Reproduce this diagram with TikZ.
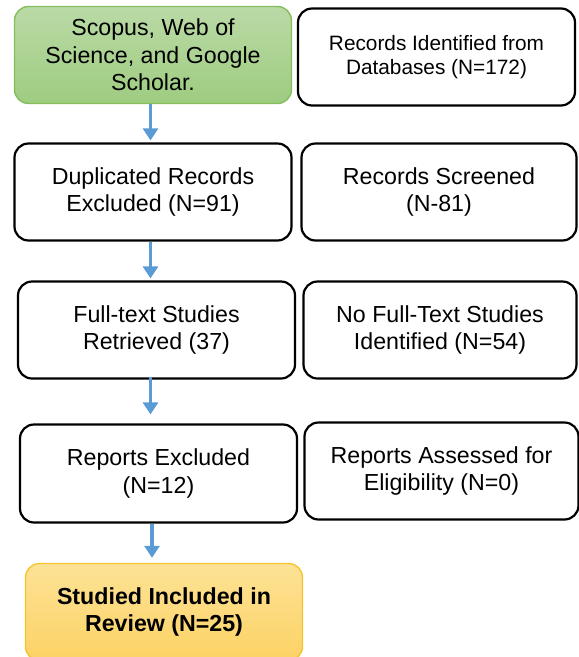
\documentclass[tikz,border=0pt]{standalone}
\usepackage{fontspec}
\setmainfont{Liberation Sans}
\usetikzlibrary{arrows.meta,positioning}
\definecolor{flowblue}{RGB}{91,155,213}
\definecolor{greenline}{RGB}{132,190,92}
\definecolor{greentop}{RGB}{186,218,166}
\definecolor{greenbot}{RGB}{158,204,128}
\definecolor{goldline}{RGB}{246,196,48}
\definecolor{goldtop}{RGB}{253,226,150}
\definecolor{goldbot}{RGB}{252,210,100}
\tikzset{
    box/.style={draw=black, line width=2.2pt, rounded corners=14pt, fill=white,
        align=center, inner sep=0pt, minimum width=277pt, minimum height=97pt,
        font=\fontsize{23.2}{27.5}\selectfont},
    flow/.style={draw=flowblue, line width=3.2pt, -{Triangle[length=12pt,width=15pt]}}
}

\begin{document}
\begin{tikzpicture}[x=1pt, y=-1pt]
    \clip (0, 0) rectangle (579, 657);
    \coordinate (ax) at (150.5, 0);

    \node[box, draw=greenline, line width=1.4pt, top color=greentop, bottom color=greenbot] (scopus) at (153, 55) {Scopus, Web of\\Science, and Google\\Scholar.};
    \node[box, font=\fontsize{20.8}{24}\selectfont] (identified) at (436.5, 57) {Records Identified from\\Databases (N=172)};

    \node[box] (duplicated) at (153, 192) {Duplicated Records\\Excluded (N=91)};
    \node[box, minimum width=275pt] (screened) at (439, 192) {Records Screened\\(N-81)};

    \node[box] (fulltext) at (156.5, 330) {Full-text Studies\\Retrieved (37)};
    \node[box, minimum width=273pt] (nofull) at (440, 330) {No Full-Text Studies\\Identified (N=54)};

    \node[box, minimum height=98pt] (excluded) at (158.5, 473.5) {Reports Excluded\\(N=12)};
    \node[box, minimum width=274pt] (assessed) at (441.5, 471) {Reports Assessed for\\Eligibility (N=0)};

    \node[box, draw=goldline, line width=1.4pt, top color=goldtop, bottom color=goldbot, font=\fontsize{23.2}{27.5}\selectfont\bfseries] (included) at (164, 612) {Studied Included in\\Review (N=25)};

    \draw[flow, shorten >=2pt] (scopus.south -| ax) -- (duplicated.north -| ax);
    \draw[flow, shorten >=2pt] (duplicated.south -| ax) -- (fulltext.north -| ax);
    \draw[flow, shorten <=-3pt, shorten >=9pt] (fulltext.south -| ax) -- (excluded.north -| ax);
    \draw[flow, shorten >=5pt] ([xshift=1.5pt]excluded.south -| ax) -- ([xshift=1.5pt]included.north -| ax);
\end{tikzpicture}
\end{document}
